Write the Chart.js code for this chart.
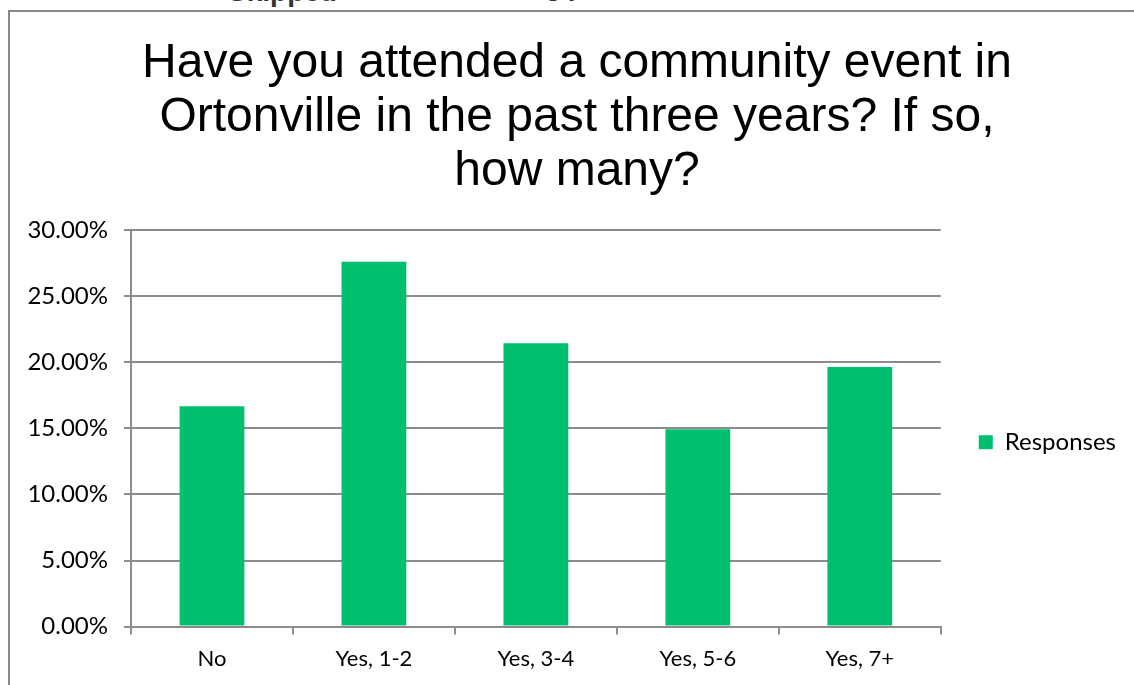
<!DOCTYPE html>
<html>
<head>
<meta charset="utf-8">
<script src="https://cdn.jsdelivr.net/npm/chart.js@4"></script>
<style>
  html, body { margin: 0; padding: 0; background: #fff; overflow: hidden; }
  #wrap { position: relative; width: 1134px; height: 685px; }
  #frame {
    position: absolute; left: 8px; top: 10px; width: 1200px; height: 800px;
    border-left: 2px solid #8a8a8a; border-top: 2px solid #8a8a8a;
  }
  .cut {
    position: absolute; top: -22px; font: bold 28px "Liberation Sans", sans-serif;
    line-height: 28px; color: #333;
  }
  canvas { position: absolute; left: 0; top: 0; }
</style>
</head>
<body>
<div id="wrap">
  <div class="cut" style="left:228px">Skipped</div>
  <div class="cut" style="left:545px">34</div>
  <div id="frame"></div>
  <canvas id="chart" width="1134" height="685"></canvas>
</div>
<script>
const categories = ["No", "Yes, 1-2", "Yes, 3-4", "Yes, 5-6", "Yes, 7+"];
const responses = [16.67, 27.59, 21.43, 14.92, 19.64];
const titleLines = [
  "Have you attended a community event in",
  "Ortonville in the past three years? If so,",
  "how many?"
];
const seriesName = "Responses";

const gridGray = "#8c8c8c";
const barGreen = "#00bf6f";

const ctx = document.getElementById("chart").getContext("2d");

new Chart(ctx, {
  type: "bar",
  data: {
    labels: categories,
    datasets: [
      {
        label: seriesName,
        data: responses,
        backgroundColor: barGreen,
        barPercentage: 0.4,
        categoryPercentage: 1.0,
      },
    ],
  },
  options: {
    responsive: false,
    animation: false,
    layout: { padding: { left: 28, right: 8, top: 37, bottom: 2 } },
    plugins: {
      title: {
        display: true,
        text: titleLines,
        color: "#000",
        font: { family: "'Liberation Sans', Arial, sans-serif", size: 48, weight: "normal", lineHeight: 1.125 },
        padding: { top: 0, bottom: 31 },
      },
      legend: {
        position: "right",
        fullSize: false,
        // empty legend title only pushes the single item down a little
        title: { display: true, text: "", font: { size: 10, lineHeight: 1.2 }, padding: { top: 16, bottom: 0 } },
        labels: {
          color: "#000",
          font: { family: "Lato, sans-serif", size: 24 },
          boxWidth: 14,
          boxHeight: 14,
          padding: 38,
        },
      },
      tooltip: { enabled: false },
    },
    scales: {
      x: {
        grid: {
          display: true,
          offset: true,
          drawOnChartArea: false,
          color: gridGray,
          lineWidth: 2,
          tickLength: 8,
        },
        border: { color: gridGray, width: 2 },
        ticks: {
          color: "#000",
          font: { family: "Lato, sans-serif", size: 22 },
          padding: 11,
        },
      },
      y: {
        min: 0,
        max: 30,
        afterFit: (scale) => { scale.width = 103; },
        grid: { color: gridGray, lineWidth: 2, tickLength: 7 },
        border: { color: gridGray, width: 2 },
        ticks: {
          stepSize: 5,
          color: "#000",
          font: { family: "Lato, sans-serif", size: 24 },
          padding: 16,
          callback: (v) => v.toFixed(2) + "%",
        },
      },
    },
  },
});
</script>
</body>
</html>
